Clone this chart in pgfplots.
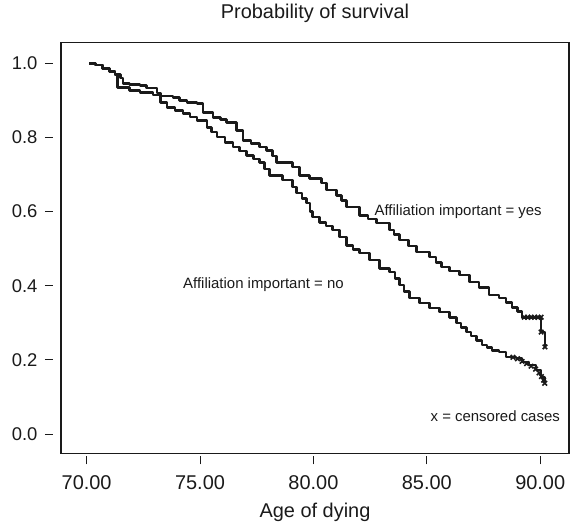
\documentclass[border=0pt]{standalone}
\usepackage{pgfplots}
\pgfplotsset{compat=1.18}
\usepackage{fontspec}
\setmainfont{Liberation Sans}
\definecolor{ink}{HTML}{1A1A1A}
\begin{document}
\begin{tikzpicture}
\begin{axis}[
  at={(0,0)}, anchor=south west,
  scale only axis,
  width=508bp, height=411bp,
  xmin=68.87, xmax=91.27,
  ymin=-0.052, ymax=1.0566,
  axis line style={ink, line width=1.3bp},
  xtick={70,75,80,85,90},
  xticklabels={70.00,75.00,80.00,85.00,90.00},
  ytick={0,0.2,0.4,0.6,0.8,1.0},
  yticklabels={0.0,0.2,0.4,0.6,0.8,1.0},
  tick align=outside,
  major tick length=8bp,
  xtick pos=bottom, ytick pos=left,
  tick style={ink, line width=0.8bp},
  every major x tick/.append style={yshift=-3bp},
  every major y tick/.append style={xshift=-8bp},
  xticklabel style={font=\fontsize{20}{22}\selectfont, text=ink, anchor=base, yshift=-28bp},
  yticklabel style={font=\fontsize{18.5}{20}\selectfont, text=ink, anchor=east, xshift=-12bp},
  title={Probability of survival},
  title style={font=\fontsize{20}{22}\selectfont, text=ink, at={(axis description cs:0.5,1)}, anchor=base, yshift=18bp},
  xlabel={Age of dying},
  xlabel style={font=\fontsize{20}{22}\selectfont, text=ink, at={(axis description cs:0.5,0)}, anchor=base, yshift=-64bp},
  clip=false,
]
\addplot[ink, line width=2.6bp, const plot, line join=round] coordinates {
(70.11,1.000) (70.4,0.995) (70.7,0.986) (71.0,0.978) (71.25,0.970) (71.5,0.96)
(71.6,0.946) (71.9,0.943) (72.35,0.94) (72.65,0.933) (73.1,0.92) (73.25,0.895)
(73.55,0.881) (73.9,0.873) (74.25,0.865) (74.55,0.855) (74.86,0.846) (75.3,0.827)
(75.5,0.815) (75.74,0.801) (76.1,0.787) (76.45,0.774) (76.75,0.763) (77.06,0.752)
(77.35,0.742) (77.63,0.733) (77.85,0.715) (78.07,0.698) (78.65,0.685) (79.09,0.666)
(79.26,0.650) (79.5,0.636) (79.7,0.623) (79.85,0.600) (79.97,0.585) (80.27,0.571)
(80.55,0.561) (80.85,0.550) (81.15,0.531) (81.46,0.509) (81.75,0.498) (82.03,0.488)
(82.47,0.469) (82.91,0.447) (83.35,0.437) (83.6,0.42) (83.79,0.402) (84.0,0.385)
(84.23,0.367) (84.67,0.353) (85.11,0.340) (85.55,0.329) (85.99,0.315) (86.3,0.299)
(86.5,0.288) (86.74,0.275) (86.95,0.264) (87.18,0.253) (87.44,0.240) (87.65,0.233)
(87.88,0.226) (88.19,0.221) (88.5,0.208) (88.94,0.205) (89.2,0.194) (89.51,0.186)
(89.82,0.173) (90.04,0.154) (90.2,0.137)
};
\addplot[ink, line width=2.6bp, const plot, line join=round] coordinates {
(70.11,1.000) (70.4,0.995) (70.7,0.986) (71.0,0.978) (71.25,0.970) (71.35,0.935)
(71.9,0.927) (72.35,0.922) (72.93,0.914) (73.23,0.912) (73.81,0.908) (74.1,0.900)
(74.42,0.895) (74.86,0.892) (75.13,0.868) (75.57,0.854) (75.9,0.848) (76.18,0.841)
(76.62,0.819) (76.89,0.792) (77.25,0.783) (77.63,0.774) (77.94,0.765) (78.2,0.75)
(78.38,0.733) (79.09,0.720) (79.39,0.698) (79.83,0.690) (80.36,0.677) (80.58,0.658)
(81.02,0.644) (81.25,0.63) (81.46,0.612) (82.03,0.590) (82.4,0.58) (82.78,0.569)
(83.35,0.550) (83.55,0.538) (83.79,0.523) (84.2,0.507) (84.54,0.491) (85.11,0.477)
(85.4,0.463) (85.64,0.450) (86.0,0.44) (86.43,0.429) (86.87,0.410) (87.31,0.396)
(87.75,0.375) (88.19,0.367) (88.5,0.355) (88.76,0.342) (89.0,0.33) (89.2,0.315)
(90.04,0.315) (90.04,0.275) (90.21,0.235)
};
% censored cases
\addplot[only marks, mark=x, mark size=3.2bp, ink, line width=1.6bp] coordinates {
(89.3,0.315) (89.45,0.315) (89.6,0.315) (89.75,0.315) (89.9,0.315) (90.04,0.315)
(90.04,0.275) (90.21,0.235)
(88.8,0.207) (89.0,0.203) (89.2,0.196) (89.4,0.19) (89.6,0.183) (89.8,0.175)
(89.95,0.165) (90.05,0.155) (90.15,0.145) (90.2,0.137)
};
\node[anchor=west, font=\fontsize{15}{17}\selectfont, text=ink, inner sep=0pt] at (axis cs:82.69,0.601) {Affiliation important = yes};
\node[anchor=west, font=\fontsize{15}{17}\selectfont, text=ink, inner sep=0pt] at (axis cs:74.25,0.404) {Affiliation important = no};
\node[anchor=west, font=\fontsize{15}{17}\selectfont, text=ink, inner sep=0pt] at (axis cs:85.16,0.0485) {x = censored cases};
\end{axis}
\path (-61bp,-66.7bp) rectangle (509bp,453.3bp);
\end{tikzpicture}
\end{document}
